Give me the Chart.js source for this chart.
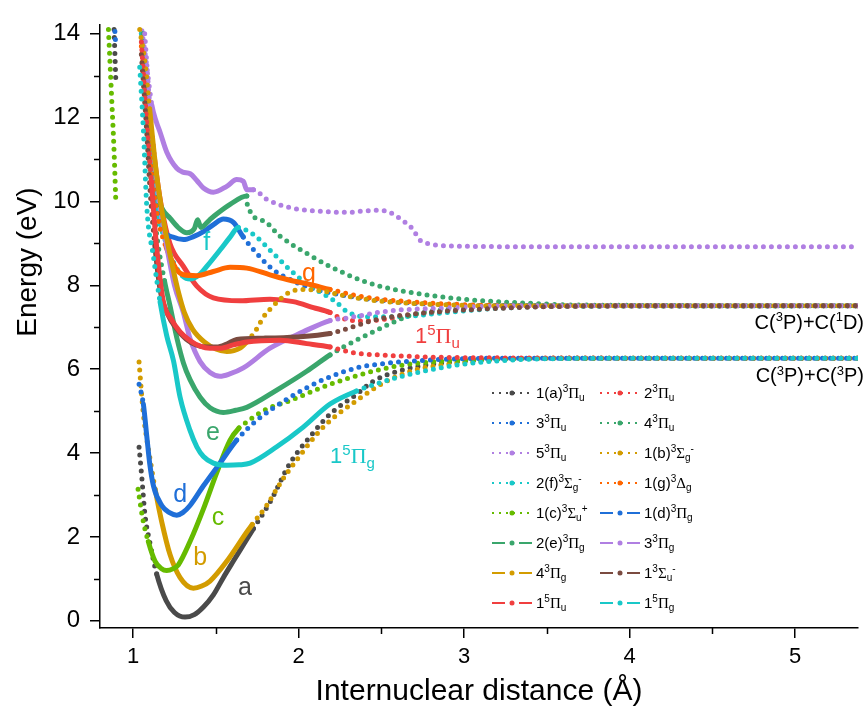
<!DOCTYPE html>
<html>
<head>
<meta charset="utf-8">
<script src="https://cdn.jsdelivr.net/npm/chart.js@4.4.1/dist/chart.umd.min.js"></script>
<style>
  html, body { margin: 0; padding: 0; background: #fff; }
  #wrap { width: 866px; height: 709px; }
</style>
</head>
<body>
<div id="wrap"><canvas id="pec" width="866" height="709"></canvas></div>
<script>
// Potential energy curves of C2, points are [R (Å), E (eV)]
const xTicks = [1, 2, 3, 4, 5];
const xMinor = [1.5, 2.5, 3.5, 4.5];
const yTicks = [0, 2, 4, 6, 8, 10, 12, 14];
const yMinor = [1, 3, 5, 7, 9, 11, 13];

const a3Pu = [[0.885, 14.1], [0.895, 12.94], [0.96, null],
  [1.036, 4.14], [1.052, 3.45], [1.072, 2.52], [1.10, 1.89], [1.143, 1.11], [1.20, 0.48], [1.25, 0.2],
  [1.314, 0.09], [1.37, 0.15], [1.425, 0.33], [1.485, 0.62], [1.545, 1.03], [1.605, 1.42], [1.666, 1.81],
  [1.727, 2.20], [1.827, 2.83], [1.948, 3.76], [2.069, 4.39], [2.19, 4.93], [2.35, 5.40], [2.45, 5.71],
  [2.6, 5.95], [2.8, 6.12], [3.0, 6.2], [3.3, 6.25], [3.8, 6.26], [4.5, 6.26], [5.38, 6.26]];

const pi3u2 = [[1.05, 14.0], [1.09, 12.5], [1.13, 11.0], [1.17, 9.9], [1.223, 8.99], [1.304, 8.45],
  [1.385, 7.98], [1.485, 7.70], [1.646, 7.63], [1.827, 7.67], [1.968, 7.61], [2.089, 7.47], [2.19, 7.35],
  [2.24, 7.24], [2.37, 7.15], [2.5, 7.18], [2.7, 7.3], [3.0, 7.43], [3.4, 7.5], [5.38, 7.51]];

const pi3u3 = [[1.06, 13.5], [1.10, 11.5], [1.14, 10.0], [1.183, 9.31], [1.24, 9.15], [1.304, 9.09],
  [1.365, 9.16], [1.425, 9.28], [1.49, 9.46], [1.545, 9.58], [1.606, 9.50], [1.666, 9.15], [1.747, 8.76],
  [1.847, 8.37], [1.948, 8.14], [2.069, 7.94], [2.19, 7.82], [2.4, 7.68], [2.7, 7.57], [3.1, 7.52], [5.38, 7.51]];

const pi3u4 = [[1.06, 14.0], [1.09, 12.5], [1.12, 11.0], [1.143, 10.2], [1.18, 9.8], [1.223, 9.6],
  [1.28, 9.35], [1.324, 9.25], [1.37, 9.35], [1.39, 9.56], [1.41, 9.38], [1.46, 9.55], [1.505, 9.70],
  [1.586, 9.93], [1.687, 10.13], [1.69, 9.93], [1.787, 9.54], [1.888, 9.17], [2.049, 8.76], [2.19, 8.45],
  [2.39, 8.10], [2.49, 7.98], [2.69, 7.82], [2.99, 7.67], [3.30, 7.59], [3.7, 7.53], [5.38, 7.51]];

const pi3u5 = [[1.053, 14.07], [1.08, 13.3], [1.113, 12.3], [1.14, 11.9], [1.163, 11.65], [1.203, 11.18],
  [1.264, 10.79], [1.30, 10.7], [1.345, 10.66], [1.385, 10.5], [1.425, 10.32], [1.485, 10.22],
  [1.566, 10.36], [1.626, 10.52], [1.666, 10.48], [1.687, 10.28], [1.727, 10.28], [1.807, 10.05],
  [1.948, 9.85], [2.149, 9.76], [2.31, 9.74], [2.39, 9.77], [2.49, 9.79], [2.55, 9.74], [2.63, 9.54],
  [2.69, 9.34], [2.73, 9.09], [2.79, 8.99], [2.99, 8.93], [3.5, 8.92], [5.38, 8.92]];

const b3Sg = [[1.036, 6.17], [1.042, 5.87], [1.062, 4.93], [1.08, 4.4], [1.10, 3.92], [1.133, 3.14],
  [1.173, 2.36], [1.223, 1.58], [1.284, 1.03], [1.364, 0.78], [1.415, 0.83], [1.465, 0.95], [1.566, 1.42],
  [1.687, 2.12], [1.72, 2.3], [1.807, 2.75], [1.90, 3.35], [1.989, 3.84], [2.149, 4.62], [2.35, 5.25],
  [2.53, 5.71], [2.7, 5.98], [2.9, 6.12], [3.2, 6.22], [3.6, 6.26], [5.38, 6.26]];

const f3Sg = [[1.05, 14.0], [1.08, 12.3], [1.11, 10.8], [1.15, 9.7], [1.20, 9.0], [1.25, 8.5], [1.30, 8.22],
  [1.344, 8.15], [1.40, 8.25], [1.445, 8.45], [1.525, 8.84], [1.586, 9.15], [1.636, 9.38], [1.69, 9.3],
  [1.747, 9.15], [1.847, 8.76], [1.948, 8.37], [2.069, 7.98], [2.19, 7.70], [2.23, 7.59], [2.29, 7.38],
  [2.4, 7.25], [2.6, 7.25], [2.89, 7.35], [3.2, 7.45], [3.6, 7.5], [5.38, 7.51]];

const g3Dg = [[1.05, 13.7], [1.08, 12.0], [1.11, 10.7], [1.15, 9.6], [1.20, 8.9], [1.233, 8.6], [1.264, 8.37],
  [1.304, 8.25], [1.385, 8.23], [1.485, 8.33], [1.586, 8.43], [1.687, 8.41], [1.827, 8.25], [1.948, 8.12],
  [2.069, 8.02], [2.19, 7.90], [2.4, 7.72], [2.7, 7.6], [3.0, 7.54], [3.4, 7.51], [5.38, 7.51]];

const c3Su = [[0.851, 14.1], [0.87, 12.5], [0.885, 11.2], [0.895, 10.06], [0.96, null],
  [1.03, 3.14], [1.042, 2.83], [1.058, 2.44], [1.092, 1.89], [1.133, 1.42], [1.17, 1.25], [1.203, 1.20],
  [1.24, 1.24], [1.274, 1.34], [1.344, 1.89], [1.425, 2.67], [1.505, 3.53], [1.586, 4.31], [1.64, 4.6],
  [1.687, 4.74], [1.787, 5.01], [1.948, 5.25], [2.19, 5.64], [2.41, 5.91], [2.6, 6.08], [2.8, 6.17],
  [3.1, 6.23], [3.5, 6.26], [5.38, 6.26]];

const d3Pg = [[0.89, 14.05], [0.895, 13.74], [0.96, null],
  [1.036, 5.64], [1.062, 5.17], [1.083, 4.39], [1.10, 3.76], [1.123, 3.22], [1.173, 2.75], [1.22, 2.58],
  [1.264, 2.52], [1.30, 2.58], [1.344, 2.75], [1.425, 3.22], [1.525, 3.76], [1.626, 4.31], [1.747, 4.78],
  [1.948, 5.33], [2.149, 5.75], [2.35, 6.03], [2.53, 6.14], [2.8, 6.22], [3.2, 6.26], [5.38, 6.26]];

const e3Pg = [[1.06, 14.0], [1.09, 11.5], [1.12, 10.0], [1.15, 9.0], [1.19, 8.1], [1.223, 7.51],
  [1.264, 6.75], [1.304, 6.15], [1.344, 5.75], [1.405, 5.33], [1.465, 5.08], [1.545, 4.97], [1.62, 5.02],
  [1.687, 5.09], [1.868, 5.5], [2.049, 5.95], [2.19, 6.34], [2.27, 6.53], [2.41, 6.81], [2.55, 7.08],
  [2.69, 7.3], [3.0, 7.46], [3.4, 7.51], [5.38, 7.51]];

const pi3g3 = [[1.07, 14.0], [1.11, 11.8], [1.15, 10.2], [1.20, 9.0], [1.25, 8.0], [1.304, 7.35],
  [1.344, 6.73], [1.405, 6.18], [1.465, 5.92], [1.525, 5.83], [1.58, 5.88], [1.666, 6.03], [1.827, 6.50],
  [2.028, 6.89], [2.19, 7.16], [2.29, 7.22], [2.55, 7.39], [2.83, 7.45], [3.3, 7.51], [5.38, 7.51]];

const pi3g4 = [[1.04, 14.1], [1.072, 13.3], [1.10, 12.2], [1.143, 10.6], [1.19, 9.4], [1.23, 8.6],
  [1.27, 7.9], [1.31, 7.35], [1.36, 6.95], [1.43, 6.65], [1.50, 6.48], [1.566, 6.42], [1.646, 6.50],
  [1.687, 6.65], [1.747, 6.96], [1.787, 7.24], [1.827, 7.43], [1.888, 7.67], [1.948, 7.84], [2.028, 7.90],
  [2.149, 7.86], [2.29, 7.74], [2.5, 7.62], [2.8, 7.55], [3.2, 7.51], [5.38, 7.51]];

const sig3u1 = [[1.05, 13.5], [1.08, 11.8], [1.103, 10.24], [1.13, 9.0], [1.163, 7.90], [1.21, 7.3],
  [1.264, 6.96], [1.32, 6.72], [1.385, 6.57], [1.445, 6.53], [1.505, 6.53], [1.566, 6.6], [1.626, 6.71],
  [1.787, 6.74], [1.989, 6.77], [2.19, 6.85], [2.23, 6.89], [2.49, 7.20], [2.79, 7.35], [3.1, 7.43],
  [3.5, 7.49], [4.0, 7.51], [5.38, 7.51]];

const pi5u1 = [[1.05, 13.8], [1.08, 12.0], [1.11, 10.5], [1.14, 9.0], [1.183, 7.6], [1.23, 7.2],
  [1.284, 6.89], [1.345, 6.68], [1.405, 6.55], [1.465, 6.5], [1.525, 6.50], [1.606, 6.58], [1.687, 6.65],
  [1.888, 6.69], [2.049, 6.61], [2.19, 6.53], [2.25, 6.47], [2.35, 6.38], [2.49, 6.34], [2.79, 6.29],
  [3.2, 6.27], [5.38, 6.26]];

const pi5g1 = [[1.04, 13.2], [1.062, 11.72], [1.083, 9.85], [1.123, 8.68], [1.163, 7.6], [1.203, 6.8],
  [1.244, 6.2], [1.284, 5.33], [1.344, 4.54], [1.385, 4.15], [1.425, 3.92], [1.485, 3.76], [1.566, 3.71],
  [1.64, 3.72], [1.707, 3.76], [1.868, 4.15], [2.028, 4.62], [2.19, 5.17], [2.35, 5.48], [2.55, 5.75],
  [2.75, 5.95], [3.0, 6.12], [3.3, 6.22], [3.8, 6.26], [5.38, 6.26]];

const C = {
  gray: '#4a4a4a', red: '#f03f3f', blue: '#1f6fd8', green: '#3aa66c', purple: '#b07fe2',
  gold: '#d39c00', cyan: '#19c8c8', orange: '#ff6600', lime: '#66bb00', brown: '#7b4b40'
};

// label runs: [text, kind]  kind: '' plain, 'sup', 'sub', 'gr' (Greek, serif)
const series = [
  { data: a3Pu,   color: C.gray,   dotted: true,  solid: [1.15, 1.73],  label: [['1(a)', ''], ['3', 'sup'], ['Π', 'gr'], ['u', 'sub']] },
  { data: pi3u2,  color: C.red,    dotted: true,  solid: [1.15, 2.2],   label: [['2', ''], ['3', 'sup'], ['Π', 'gr'], ['u', 'sub']] },
  { data: pi3u3,  color: C.blue,   dotted: true,  solid: [1.15, 1.67],  label: [['3', ''], ['3', 'sup'], ['Π', 'gr'], ['u', 'sub']] },
  { data: pi3u4,  color: C.green,  dotted: true,  solid: [1.15, 1.688], label: [['4', ''], ['3', 'sup'], ['Π', 'gr'], ['u', 'sub']] },
  { data: pi3u5,  color: C.purple, dotted: true,  solid: [1.11, 1.75],  label: [['5', ''], ['3', 'sup'], ['Π', 'gr'], ['u', 'sub']] },
  { data: b3Sg,   color: C.gold,   dotted: true,  solid: [1.12, 1.72],  label: [['1(b)', ''], ['3', 'sup'], ['Σ', 'gr'], ['g', 'sub'], ['-', 'sup']] },
  { data: f3Sg,   color: C.cyan,   dotted: true,  solid: [1.28, 1.64],  label: [['2(f)', ''], ['3', 'sup'], ['Σ', 'gr'], ['g', 'sub'], ['-', 'sup']] },
  { data: g3Dg,   color: C.orange, dotted: true,  solid: [1.2, 2.2],    label: [['1(g)', ''], ['3', 'sup'], ['Δ', 'gr'], ['g', 'sub']] },
  { data: c3Su,   color: C.lime,   dotted: true,  solid: [1.08, 1.62],  label: [['1(c)', ''], ['3', 'sup'], ['Σ', 'gr'], ['u', 'sub'], ['+', 'sup']] },
  { data: d3Pg,   color: C.blue,   dotted: false, solid: [1.07, 1.64],  label: [['1(d)', ''], ['3', 'sup'], ['Π', 'gr'], ['g', 'sub']] },
  { data: e3Pg,   color: C.green,  dotted: false, solid: [1.2, 2.2],    label: [['2(e)', ''], ['3', 'sup'], ['Π', 'gr'], ['g', 'sub']] },
  { data: pi3g3,  color: C.purple, dotted: false, solid: [1.2, 2.2],    label: [['3', ''], ['3', 'sup'], ['Π', 'gr'], ['g', 'sub']] },
  { data: pi3g4,  color: C.gold,   dotted: false, solid: [1.1, 1.69],   label: [['4', ''], ['3', 'sup'], ['Π', 'gr'], ['g', 'sub']] },
  { data: sig3u1, color: C.brown,  dotted: false, solid: [1.12, 2.2],   label: [['1', ''], ['3', 'sup'], ['Σ', 'gr'], ['u', 'sub'], ['-', 'sup']] },
  { data: pi5u1,  color: C.red,    dotted: false, solid: [1.12, 2.2],   label: [['1', ''], ['5', 'sup'], ['Π', 'gr'], ['u', 'sub']] },
  { data: pi5g1,  color: C.cyan,   dotted: false, solid: [1.16, 2.3],   label: [['1', ''], ['5', 'sup'], ['Π', 'gr'], ['g', 'sub']] },
];

// curve labels placed in data coordinates (centre of the glyph)
const notes = [
  { at: [1.676, 0.79], color: C.gray,   runs: [['a', '']] },
  { at: [1.405, 1.49], color: C.gold,   runs: [['b', '']] },
  { at: [1.513, 2.45], color: C.lime,   runs: [['c', '']] },
  { at: [1.284, 3.00], color: C.blue,   runs: [['d', '']] },
  { at: [1.483, 4.49], color: C.green,  runs: [['e', '']] },
  { at: [1.445, 9.02], color: C.cyan,   runs: [['f', '']] },
  { at: [2.063, 8.26], color: C.orange, runs: [['g', '']] },
];

const SANS = '"Liberation Sans", Arial, sans-serif';
const SERIF = '"Liberation Serif", "Times New Roman", serif';

function runFont(kind, size) {
  if (kind === 'sup' || kind === 'sub') return `${Math.round(size * 0.66)}px ${SANS}`;
  if (kind === 'gr') return `${size}px ${SERIF}`;
  return `${size}px ${SANS}`;
}

function richWidth(ctx, runs, size) {
  let w = 0;
  runs.forEach(([t, k]) => { ctx.font = runFont(k, size); w += ctx.measureText(t).width; });
  return w;
}

// draws text runs with super/subscripts; x is left edge unless align === 'right' / 'center'
function drawRich(ctx, runs, x, y, size, color, align) {
  const w = richWidth(ctx, runs, size);
  let cx = align === 'right' ? x - w : align === 'center' ? x - w / 2 : x;
  ctx.save();
  ctx.fillStyle = color;
  ctx.textAlign = 'left';
  ctx.textBaseline = 'alphabetic';
  runs.forEach(([t, k]) => {
    ctx.font = runFont(k, size);
    let dy = 0;
    if (k === 'sup') dy = -size * 0.38;
    if (k === 'sub') dy = size * 0.22;
    ctx.fillText(t, cx, y + dy);
    cx += ctx.measureText(t).width;
  });
  ctx.restore();
}

function segmentDash(lo, hi) {
  return (ctx) => {
    const m = (ctx.p0.parsed.x + ctx.p1.parsed.x) / 2;
    return m >= lo && m <= hi ? [] : [0, 8];
  };
}

const datasets = series.map((s) => ({
  data: s.data,
  borderColor: s.color,
  backgroundColor: s.color,
  borderWidth: 5,
  borderCapStyle: 'round',
  borderJoinStyle: 'round',
  pointRadius: 0,
  cubicInterpolationMode: 'monotone',
  spanGaps: false,
  segment: { borderDash: segmentDash(s.solid[0], s.solid[1]) },
})).reverse();

const decorations = {
  id: 'decorations',
  afterDraw(chart) {
    const { ctx, scales: { x, y } } = chart;
    ctx.save();
    ctx.strokeStyle = '#000';
    ctx.lineWidth = 1.5;
    ctx.beginPath();
    xMinor.forEach((v) => {
      const px = Math.round(x.getPixelForValue(v)) + 0.5;
      ctx.moveTo(px, y.bottom); ctx.lineTo(px, y.bottom + 6);
    });
    yMinor.forEach((v) => {
      const py = Math.round(y.getPixelForValue(v)) + 0.5;
      ctx.moveTo(x.left, py); ctx.lineTo(x.left - 6, py);
    });
    ctx.stroke();
    ctx.restore();

    // axis titles
    ctx.save();
    ctx.fillStyle = '#000';
    ctx.font = `30px ${SANS}`;
    ctx.textAlign = 'center';
    ctx.textBaseline = 'alphabetic';
    ctx.fillText('Internuclear distance (Å)', (x.left + x.right) / 2, 700);
    ctx.translate(36, 262);
    ctx.rotate(-Math.PI / 2);
    ctx.font = `28px ${SANS}`;
    ctx.fillText('Energy (eV)', 0, 0);
    ctx.restore();

    // curve letters
    notes.forEach((n) => {
      drawRich(ctx, n.runs, x.getPixelForValue(n.at[0]), y.getPixelForValue(n.at[1]) + 7, 25, n.color, 'center');
    });
    drawRich(ctx, [['1', ''], ['5', 'sup'], ['Π', 'gr'], ['u', 'sub']],
      x.getPixelForValue(2.703), y.getPixelForValue(6.62), 22, C.red, 'left');
    drawRich(ctx, [['1', ''], ['5', 'sup'], ['Π', 'gr'], ['g', 'sub']],
      x.getPixelForValue(2.19), y.getPixelForValue(3.76), 22, C.cyan, 'left');

    // dissociation limits
    drawRich(ctx, [['C(', ''], ['3', 'sup'], ['P)+C(', ''], ['1', 'sup'], ['D)', '']],
      864, y.getPixelForValue(7.51) + 23, 20, '#000', 'right');
    drawRich(ctx, [['C(', ''], ['3', 'sup'], ['P)+C(', ''], ['3', 'sup'], ['P)', '']],
      864, y.getPixelForValue(6.26) + 24, 20, '#000', 'right');

    // legend, two columns
    series.forEach((s, i) => {
      const col = i % 2;
      const row = Math.floor(i / 2);
      const sx = col === 0 ? 492 : 600;
      const sy = 393 + row * 30;
      ctx.save();
      ctx.strokeStyle = s.color;
      ctx.fillStyle = s.color;
      ctx.lineWidth = 2;
      ctx.beginPath();
      if (s.dotted) {
        ctx.setLineDash([2, 5]);
        ctx.moveTo(sx, sy); ctx.lineTo(sx + 40, sy);
      } else {
        ctx.moveTo(sx, sy); ctx.lineTo(sx + 13, sy);
        ctx.moveTo(sx + 27, sy); ctx.lineTo(sx + 40, sy);
      }
      ctx.stroke();
      ctx.setLineDash([]);
      ctx.beginPath();
      ctx.arc(sx + 20, sy, 2.5, 0, Math.PI * 2);
      ctx.fill();
      ctx.restore();
      drawRich(ctx, s.label, sx + 44, sy + 5, 15, '#000', 'left');
    });
  },
};

new Chart(document.getElementById('pec'), {
  type: 'line',
  data: { datasets },
  options: {
    responsive: false,
    animation: false,
    layout: { padding: { left: 0, right: 8, top: 13, bottom: 0 } },
    plugins: { legend: { display: false }, tooltip: { enabled: false } },
    scales: {
      x: {
        type: 'linear',
        min: 0.8,
        max: 5.38,
        afterBuildTicks: (s) => { s.ticks = xTicks.map((v) => ({ value: v })); },
        afterFit: (s) => { s.height = 81; },
        grid: { drawOnChartArea: false, tickLength: 10, color: '#000', lineWidth: 1.5 },
        border: { display: true, color: '#000', width: 1.5 },
        ticks: { font: { size: 22, family: SANS }, color: '#000', padding: 6, maxRotation: 0 },
      },
      y: {
        type: 'linear',
        min: -0.17,
        max: 14.22,
        afterBuildTicks: (s) => { s.ticks = yTicks.map((v) => ({ value: v })); },
        afterFit: (s) => { s.width = 100; },
        grid: { drawOnChartArea: false, tickLength: 10, color: '#000', lineWidth: 1.5 },
        border: { display: true, color: '#000', width: 1.5 },
        ticks: { font: { size: 24, family: SANS }, color: '#000', padding: 10 },
      },
    },
  },
  plugins: [decorations],
});
</script>
</body>
</html>
